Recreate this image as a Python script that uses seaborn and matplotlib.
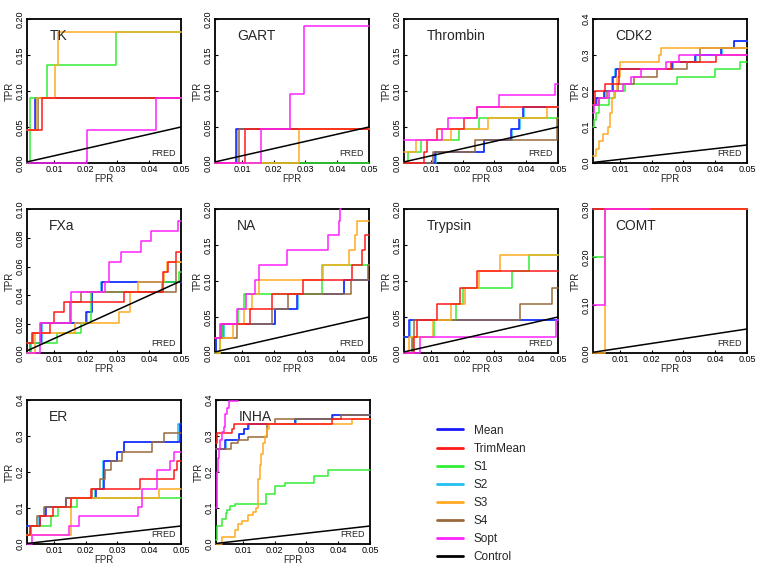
import matplotlib
matplotlib.use("Agg")
import matplotlib.pyplot as plt
from matplotlib.lines import Line2D
from matplotlib.ticker import FormatStrFormatter
import pandas as pd
import seaborn as sns

# ---------------- data ----------------
METHODS = ["Mean", "TrimMean", "S1", "S2", "S3", "S4", "Sopt", "Control"]
DRAW_ORDER = ["S2", "Mean", "S1", "S4", "S3", "TrimMean", "Sopt"]
COLORS = {"Mean": "#1a1aff", "TrimMean": "#ff1a1a", "S1": "#33ee33", "S2": "#22c0f0",
          "S3": "#ffaa22", "S4": "#9a6a3c", "Sopt": "#ff22ff", "Control": "#000000"}
TARGETS = ["TK", "GART", "Thrombin", "CDK2", "FXa", "NA", "Trypsin", "COMT", "ER", "INHA"]
YMAX = [0.2, 0.2, 0.2, 0.4, 0.1, 0.2, 0.2, 0.3, 0.4, 0.4]
YTICKS = [[0, 0.05, 0.1, 0.15, 0.2]] * 3 + [[0, 0.1, 0.2, 0.3, 0.4]] + \
         [[0, 0.02, 0.04, 0.06, 0.08, 0.1]] + [[0, 0.05, 0.1, 0.15, 0.2]] * 2 + \
         [[0, 0.1, 0.2, 0.3]] + [[0, 0.1, 0.2, 0.3, 0.4]] * 2
YFMT = ["%.2f", "%.2f", "%.2f", "%.1f", "%.2f", "%.2f", "%.2f", "%.2f", "%.1f", "%.1f"]
XTICKS = [0.01, 0.02, 0.03, 0.04, 0.05]
XMIN, XMAX = 0.0015, 0.05
CONTROL_X = [0.0, 0.05]
CONTROL_Y = [0.0, 0.05]

# each series: (FPR breakpoints, TPR from that breakpoint on);
# an extra trailing FPR marks where a series stops before the right edge
TK = {
    "Mean": ([0.0015, 0.0039], [0.0455, 0.0909]),
    "TrimMean": ([0.0015, 0.0063], [0.0455, 0.0909]),
    "S1": ([0.0015, 0.0026, 0.0079, 0.0294], [0, 0.0909, 0.1364, 0.1818]),
    "S2": ([0.0015, 0.0042], [0.0455, 0.0909]),
    "S3": ([0.0015, 0.0045, 0.0102, 0.0114], [0.0455, 0.0909, 0.1364, 0.1818]),
    "S4": ([0.0015, 0.0050], [0.0455, 0.0909]),
    "Sopt": ([0.0015, 0.0204, 0.0420], [0, 0.0455, 0.0909]),
}
GART = {
    "Mean": ([0.0015, 0.0081], [0, 0.0476]),
    "TrimMean": ([0.0015, 0.0108], [0, 0.0476]),
    "S1": ([0.0015], [0]),
    "S2": ([0.0015, 0.0083], [0, 0.0476]),
    "S3": ([0.0015, 0.0280], [0, 0.0476]),
    "S4": ([0.0015, 0.0092], [0, 0.0476]),
    "Sopt": ([0.0015, 0.0161, 0.0252, 0.0295], [0, 0.0476, 0.0952, 0.1905]),
}
THROMBIN = {
    "Mean": ([0.0015, 0.0113, 0.0266, 0.0352, 0.0377, 0.0390],
             [0, 0.0156, 0.0313, 0.0469, 0.0625, 0.0781]),
    "TrimMean": ([0.0015, 0.0078, 0.0089, 0.0119, 0.0205, 0.0245],
                 [0, 0.0156, 0.0313, 0.0469, 0.0625, 0.0781]),
    "S1": ([0.0015, 0.0029, 0.0069, 0.0187, 0.0250], [0, 0.0156, 0.0313, 0.0469, 0.0625]),
    "S2": ([0.0015, 0.0115, 0.0268, 0.0354, 0.0379, 0.0392],
           [0, 0.0156, 0.0313, 0.0469, 0.0625, 0.0781]),
    "S3": ([0.0015, 0.0052, 0.0164, 0.0279, 0.0465], [0.0156, 0.0313, 0.0469, 0.0625, 0.0781]),
    "S4": ([0.0015, 0.0105, 0.0240, 0.0496], [0, 0.0156, 0.0313, 0.0625]),
    "Sopt": ([0.0015, 0.0136, 0.0152, 0.0245, 0.0313, 0.0490],
             [0.0313, 0.0469, 0.0625, 0.0781, 0.0938, 0.1094]),
}
CDK2 = {
    "Mean": ([0.0015, 0.0026, 0.0050, 0.0078, 0.0086, 0.0265, 0.0336, 0.0419, 0.0458],
             [0.16, 0.18, 0.20, 0.24, 0.26, 0.28, 0.30, 0.32, 0.34]),
    "TrimMean": ([0.0015, 0.0020, 0.0054, 0.0096, 0.0260, 0.0402],
                 [0.16, 0.20, 0.22, 0.26, 0.28, 0.30]),
    "S1": ([0.0015, 0.0018, 0.0025, 0.0035, 0.0065, 0.0085, 0.0115, 0.0280, 0.0400, 0.0479],
           [0.10, 0.12, 0.14, 0.16, 0.18, 0.20, 0.22, 0.24, 0.26, 0.28]),
    "S2": ([0.0015, 0.0028, 0.0052, 0.0076, 0.0084, 0.0267, 0.0338, 0.0421, 0.0460],
           [0.16, 0.18, 0.20, 0.24, 0.26, 0.28, 0.30, 0.32, 0.34]),
    "S3": ([0.0015, 0.0025, 0.0035, 0.0048, 0.0062, 0.0070, 0.0075, 0.0080, 0.0090, 0.0100,
            0.0222, 0.0228],
           [0.02, 0.04, 0.06, 0.08, 0.10, 0.14, 0.18, 0.20, 0.24, 0.28, 0.30, 0.32]),
    "S4": ([0.0015, 0.0035, 0.0060, 0.0095, 0.0145, 0.0215, 0.0310, 0.0352],
           [0.16, 0.18, 0.20, 0.22, 0.24, 0.26, 0.28, 0.32]),
    "Sopt": ([0.0015, 0.0018, 0.0035, 0.0065, 0.0110, 0.0135, 0.0165, 0.0245, 0.0285],
             [0.14, 0.16, 0.18, 0.20, 0.22, 0.24, 0.26, 0.28, 0.30]),
}
FXA = {
    "Mean": ([0.0015, 0.0025, 0.0060, 0.0201, 0.0219, 0.0250],
             [0, 0.0070, 0.0211, 0.0282, 0.0423, 0.0493]),
    "TrimMean": ([0.0015, 0.0031, 0.0088, 0.0099, 0.0130, 0.0321, 0.0442, 0.0460, 0.0483],
                 [0.0070, 0.0141, 0.0211, 0.0282, 0.0352, 0.0423, 0.0563, 0.0634, 0.0704]),
    "S1": ([0.0015, 0.0025, 0.0110, 0.0185, 0.0215, 0.0440, 0.0495],
           [0, 0.0070, 0.0141, 0.0211, 0.0423, 0.0493, 0.0563]),
    "S2": ([0.0015, 0.0027, 0.0062, 0.0203, 0.0221, 0.0247],
           [0, 0.0070, 0.0211, 0.0282, 0.0423, 0.0493]),
    "S3": ([0.0015, 0.0040, 0.0165, 0.0305, 0.0340, 0.0365, 0.0445, 0.0455],
           [0, 0.0141, 0.0211, 0.0282, 0.0423, 0.0493, 0.0563, 0.0634]),
    "S4": ([0.0015, 0.0035, 0.0060, 0.0150, 0.0185, 0.0483],
           [0.0070, 0.0141, 0.0211, 0.0352, 0.0423, 0.0634]),
    "Sopt": ([0.0015, 0.0057, 0.0155, 0.0260, 0.0272, 0.0310, 0.0375, 0.0405, 0.0490],
             [0, 0.0211, 0.0423, 0.0493, 0.0634, 0.0704, 0.0775, 0.0845, 0.0915]),
}
NA = {
    "Mean": ([0.0015, 0.0018, 0.0041, 0.0203, 0.0273, 0.0420],
             [0, 0.0204, 0.0408, 0.0612, 0.0816, 0.1020]),
    "TrimMean": ([0.0015, 0.0035, 0.0124, 0.0196, 0.0292, 0.0446, 0.0478, 0.0488],
                 [0.0204, 0.0408, 0.0612, 0.0816, 0.1020, 0.1224, 0.1429, 0.1633]),
    "S1": ([0.0015, 0.0030, 0.0040, 0.0087, 0.0105, 0.0352],
           [0, 0.0204, 0.0408, 0.0612, 0.0816, 0.1224]),
    "S2": ([0.0015, 0.0019, 0.0042, 0.0205, 0.0275, 0.0422],
           [0, 0.0204, 0.0408, 0.0612, 0.0816, 0.1020]),
    "S3": ([0.0015, 0.0030, 0.0073, 0.0106, 0.0130, 0.0152, 0.0354, 0.0437, 0.0455, 0.0462],
           [0, 0.0204, 0.0408, 0.0612, 0.0816, 0.1020, 0.1224, 0.1429, 0.1633, 0.1837]),
    "S4": ([0.0015, 0.0084, 0.0193, 0.0244, 0.0443, 0.0497],
           [0.0204, 0.0408, 0.0612, 0.0816, 0.1020, 0.1224]),
    "Sopt": ([0.0015, 0.0032, 0.0083, 0.0113, 0.0140, 0.0152, 0.0243, 0.0370, 0.0405, 0.0410,
              0.0411],
             [0.0204, 0.0408, 0.0612, 0.0816, 0.1020, 0.1224, 0.1429, 0.1633, 0.1837, 0.2000]),
}
TRYPSIN = {
    "Mean": ([0.0015, 0.0032], [0.0227, 0.0455]),
    "TrimMean": ([0.0015, 0.0045, 0.0055, 0.0120, 0.0190, 0.0245],
                 [0, 0.0227, 0.0455, 0.0682, 0.0909, 0.1136]),
    "S1": ([0.0015, 0.0044, 0.0110, 0.0178, 0.0200, 0.0355, 0.0410],
           [0, 0.0227, 0.0455, 0.0682, 0.0909, 0.1136, 0.1364]),
    "S2": ([0.0015, 0.0033], [0.0227, 0.0455]),
    "S3": ([0.0015, 0.0031, 0.0105, 0.0162, 0.0208, 0.0250, 0.0317],
           [0, 0.0227, 0.0455, 0.0682, 0.0909, 0.1136, 0.1364]),
    "S4": ([0.0015, 0.0040, 0.0048, 0.0380, 0.0480], [0, 0.0227, 0.0455, 0.0682, 0.0909]),
    "Sopt": ([0.0015, 0.0065, 0.0495], [0, 0.0227, 0.0455]),
}
COMT = {
    "Mean": ([0.0015], [0.3]),
    "TrimMean": ([0.0015], [0.3]),
    "S1": ([0.0015, 0.0053], [0.2, 0.3]),
    "S2": ([0.0015], [0.3]),
    "S3": ([0.0015, 0.0053], [0, 0.3]),
    "S4": ([0.0015], [0.3]),
    "Sopt": ([0.0015, 0.0053, 0.0190], [0.1, 0.3]),
}
ER = {
    "Mean": ([0.0015, 0.0055, 0.0075, 0.0139, 0.0232, 0.0257, 0.0299, 0.0322, 0.0497],
             [0.0513, 0.0769, 0.1026, 0.1282, 0.1538, 0.2308, 0.2564, 0.2821, 0.3333]),
    "TrimMean": ([0.0015, 0.0025, 0.0055, 0.0098, 0.0153, 0.0216, 0.0372, 0.0479, 0.0488],
                 [0.0256, 0.0513, 0.0769, 0.1026, 0.1282, 0.1538, 0.1795, 0.2051, 0.2308]),
    "S1": ([0.0015, 0.0025, 0.0090, 0.0112, 0.0172], [0.0256, 0.0513, 0.0769, 0.1026, 0.1282]),
    "S2": ([0.0015, 0.0053, 0.0073, 0.0137, 0.0230, 0.0255, 0.0297, 0.0320, 0.0490],
           [0.0513, 0.0769, 0.1026, 0.1282, 0.1538, 0.2308, 0.2564, 0.2821, 0.3333]),
    "S3": ([0.0015, 0.0153, 0.0430], [0.0256, 0.1282, 0.1538]),
    "S4": ([0.0015, 0.0028, 0.0048, 0.0068, 0.0138, 0.0221, 0.0245, 0.0262, 0.0280, 0.0315,
            0.0410, 0.0445],
           [0.0256, 0.0513, 0.0769, 0.1026, 0.1282, 0.1538, 0.1795, 0.2051, 0.2308, 0.2564,
            0.2821, 0.3077]),
    "Sopt": ([0.0015, 0.0032, 0.0148, 0.0178, 0.0366, 0.0378, 0.0425, 0.0465, 0.0478],
             [0, 0.0256, 0.0513, 0.0769, 0.1026, 0.1538, 0.2051, 0.2308, 0.2564]),
}
INHA = {
    "Mean": ([0.0015, 0.0044, 0.0086, 0.0102, 0.0116, 0.0264, 0.0380],
             [0.265, 0.290, 0.305, 0.320, 0.333, 0.346, 0.359]),
    "TrimMean": ([0.0015, 0.0018, 0.0065, 0.0072, 0.0380], [0.280, 0.307, 0.320, 0.333, 0.346]),
    "S1": ([0.0015, 0.0018, 0.0035, 0.0045, 0.0050, 0.0058, 0.0076, 0.0172, 0.0202, 0.0233,
            0.0325, 0.0367],
           [0.01, 0.05, 0.07, 0.085, 0.095, 0.105, 0.112, 0.140, 0.160, 0.170, 0.190, 0.205]),
    "S2": ([0.0015, 0.0046, 0.0088, 0.0104, 0.0118, 0.0266, 0.0382],
           [0.265, 0.290, 0.305, 0.320, 0.333, 0.346, 0.359]),
    "S3": ([0.0015, 0.0034, 0.0074, 0.0085, 0.0097, 0.0115, 0.0133, 0.0140, 0.0147, 0.0152,
            0.0157, 0.0163, 0.0170, 0.0176, 0.0183, 0.0443],
           [0, 0.02, 0.04, 0.055, 0.065, 0.08, 0.09, 0.10, 0.18, 0.22, 0.25, 0.28, 0.30, 0.32,
            0.333, 0.346]),
    "S4": ([0.0015, 0.0063, 0.0085, 0.0117, 0.0175, 0.0200, 0.0408],
           [0.265, 0.280, 0.290, 0.297, 0.333, 0.346, 0.358]),
    "Sopt": ([0.0015, 0.0018, 0.0019, 0.0021, 0.0025, 0.0029, 0.0033, 0.0039, 0.0044, 0.0049,
              0.0055, 0.0085],
             [0.10, 0.14, 0.20, 0.24, 0.265, 0.29, 0.31, 0.325, 0.36, 0.377, 0.398]),
}
PANEL_DATA = [TK, GART, THROMBIN, CDK2, FXA, NA, TRYPSIN, COMT, ER, INHA]

# ---------------- layout ----------------
W, H = 757, 565
BOXES = [(27, 19), (215, 19), (404, 19), (593, 19),
         (27, 209), (215, 209), (404, 209), (593, 209),
         (27, 400), (216, 400)]
BW, BH = 154, 144

sns.set_theme(style="white")
FONT = ["Liberation Sans Narrow", "Liberation Sans", "DejaVu Sans"]
plt.rcParams["font.family"] = FONT

fig = plt.figure(figsize=(W / 100, H / 100), dpi=100)
fig.patch.set_facecolor("white")


def series_frame(panel):
    rows = []
    for m in DRAW_ORDER:
        xs, ys = panel[m]
        xs = list(xs)
        ys = list(ys)
        end = xs.pop() if len(xs) == len(ys) + 1 else XMAX
        for x, y in zip(xs, ys):
            rows.append((m, x, y))
        rows.append((m, end, ys[-1]))
    return pd.DataFrame(rows, columns=["method", "FPR", "TPR"])


for i, name in enumerate(TARGETS):
    x0, y0 = BOXES[i]
    ax = fig.add_axes([x0 / W, 1 - (y0 + BH) / H, BW / W, BH / H])
    df = series_frame(PANEL_DATA[i])
    sns.lineplot(data=df, x="FPR", y="TPR", hue="method", hue_order=DRAW_ORDER,
                 palette=COLORS, estimator=None, sort=False, drawstyle="steps-post",
                 lw=1.1, legend=False, ax=ax, clip_on=False, zorder=3)
    sns.lineplot(x=CONTROL_X, y=CONTROL_Y, color=COLORS["Control"], lw=1.1, ax=ax, zorder=3.5)
    ax.set_xlim(XMIN, XMAX)
    ax.set_ylim(0, YMAX[i])
    ax.set_xticks(XTICKS)
    ax.set_yticks(YTICKS[i])
    ax.xaxis.set_major_formatter(FormatStrFormatter("%.2f"))
    ax.yaxis.set_major_formatter(FormatStrFormatter(YFMT[i]))
    ax.tick_params(axis="both", direction="in", length=2, width=0.8, labelsize=6.5,
                   pad=1.5, colors="black")
    ax.tick_params(axis="x", bottom=True)
    ax.tick_params(axis="y", left=True)
    for lab in ax.get_yticklabels():
        lab.set_rotation(90)
        lab.set_va("center")
    ax.set_xlabel("FPR", fontsize=7, labelpad=0)
    ax.set_ylabel("TPR", fontsize=7, labelpad=1)
    for sp in ax.spines.values():
        sp.set_color("black")
        sp.set_linewidth(1.3)
    ax.text(0.145, 0.93, name, transform=ax.transAxes, ha="left", va="top", fontsize=10)
    ax.text(0.965, 0.035, "FRED", transform=ax.transAxes, ha="right", va="bottom",
            fontsize=6.5)

handles = [Line2D([], [], color=COLORS[m], lw=2) for m in METHODS]
fig.legend(handles, METHODS, loc="upper left", bbox_to_anchor=(0.571, 0.257),
           frameon=False, fontsize=8.5, handlelength=2.2, handletextpad=0.9,
           labelspacing=0.52, borderaxespad=0)

fig.savefig("out.png", dpi=100, facecolor="white")
